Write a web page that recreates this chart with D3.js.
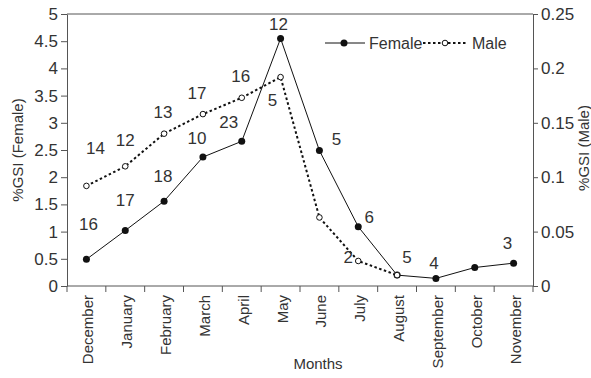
<!DOCTYPE html>
<html>
<head>
<meta charset="utf-8">
<script src="https://cdn.jsdelivr.net/npm/d3@7"></script>
<style>
  html, body { margin: 0; padding: 0; background: #fff; }
  svg { display: block; }
  text { font-family: "Liberation Sans", Arial, sans-serif; fill: #333; }
</style>
</head>
<body>
<svg id="chart" width="591" height="378"></svg>
<script>
// Monthly gonadosomatic index, females (left axis) and males (right axis)
const months = ["December", "January", "February", "March", "April", "May",
                "June", "July", "August", "September", "October", "November"];
const femaleGSI = [0.49, 1.02, 1.56, 2.37, 2.66, 4.55, 2.49, 1.09, 0.20, 0.14, 0.34, 0.42];
const maleGSI = [0.092, 0.110, 0.140, 0.158, 0.173, 0.192, 0.063, 0.023, 0.010];
// sample sizes written beside the points
const femaleN = ["16", "17", "18", "10", "23", "12", "5", "6", "5", "4", null, "3"];
const maleN = ["14", "12", "13", "17", "16", "5", null, "2", null];
const leftTicks = [0, 0.5, 1, 1.5, 2, 2.5, 3, 3.5, 4, 4.5, 5];
const rightTicks = [0, 0.05, 0.1, 0.15, 0.2, 0.25];

const svg = d3.select("#chart");
const m = { left: 67, right: 533, top: 14, bottom: 286 };
const axisColor = "#555";

const x = d3.scaleBand().domain(months).range([m.left, m.right]).padding(0);
const yL = d3.scaleLinear().domain([0, 5]).range([m.bottom, m.top]);
const yR = d3.scaleLinear().domain([0, 0.25]).range([m.bottom, m.top]);
const cx = d => x(d) + x.bandwidth() / 2;

// frame top line
svg.append("line").attr("x1", m.left).attr("x2", m.right)
  .attr("y1", m.top).attr("y2", m.top).attr("stroke", axisColor).attr("stroke-width", 1);

// left axis
const gL = svg.append("g").attr("transform", `translate(${m.left},0)`)
  .call(d3.axisLeft(yL).tickValues(leftTicks).tickSize(6).tickSizeOuter(0).tickPadding(3)
    .tickFormat(d => String(d)));
// right axis
const gR = svg.append("g").attr("transform", `translate(${m.right},0)`)
  .call(d3.axisRight(yR).tickValues(rightTicks).tickSize(5).tickSizeOuter(0).tickPadding(3)
    .tickFormat(d => String(+d.toFixed(2))));
[gL, gR].forEach(g => {
  g.selectAll("path, line").attr("stroke", axisColor);
  g.selectAll("text").attr("font-size", 17).attr("fill", "#333")
    .attr("font-family", "Liberation Sans, Arial, sans-serif");
});

// bottom axis with ticks at band edges
const gB = svg.append("g").attr("transform", `translate(0,${m.bottom})`);
gB.append("line").attr("x1", m.left).attr("x2", m.right).attr("stroke", axisColor);
const edges = months.map(d => x(d)).concat([m.right]);
gB.selectAll("line.tk").data(edges).join("line").attr("class", "tk")
  .attr("x1", d => d).attr("x2", d => d).attr("y1", 0).attr("y2", 6).attr("stroke", axisColor);
gB.selectAll("text.mo").data(months).join("text").attr("class", "mo")
  .attr("transform", d => `translate(${cx(d) + 7},9) rotate(-90)`)
  .attr("text-anchor", "end").attr("font-size", 15).text(d => d);

// axis titles
svg.append("text").attr("transform", `translate(23,${(m.top + m.bottom) / 2}) rotate(-90)`)
  .attr("text-anchor", "middle").attr("font-size", 15).text("%GSI (Female)");
svg.append("text").attr("transform", `translate(589,148) rotate(-90)`)
  .attr("text-anchor", "middle").attr("font-size", 15).text("%GSI (Male)");
svg.append("text").attr("x", 318).attr("y", 369)
  .attr("text-anchor", "middle").attr("font-size", 15).text("Months");

// female series
const femPts = months.map((mo, i) => ({ mo, v: femaleGSI[i], n: femaleN[i] }));
svg.append("path").datum(femPts)
  .attr("d", d3.line().x(d => cx(d.mo)).y(d => yL(d.v)))
  .attr("fill", "none").attr("stroke", "#111").attr("stroke-width", 1);

// male series
const malePts = maleGSI.map((v, i) => ({ mo: months[i], v, n: maleN[i] }));
svg.append("path").datum(malePts)
  .attr("d", d3.line().x(d => cx(d.mo)).y(d => yR(d.v)))
  .attr("fill", "none").attr("stroke", "#111").attr("stroke-width", 2)
  .attr("stroke-dasharray", "2.5,2.5");

svg.selectAll("circle.fem").data(femPts).join("circle").attr("class", "fem")
  .attr("cx", d => cx(d.mo)).attr("cy", d => yL(d.v)).attr("r", 3.5).attr("fill", "#111");
svg.selectAll("circle.male").data(malePts).join("circle").attr("class", "male")
  .attr("cx", d => cx(d.mo)).attr("cy", d => yR(d.v)).attr("r", 2.8)
  .attr("fill", "#fff").attr("stroke", "#111").attr("stroke-width", 1);

// sample-size labels: offsets of each label's centre from its point
const femOff = [[2, -35], [0, -31], [-1, -25], [-6, -19], [-13, -19], [-2, -14],
                [17, -12], [11, -10], [10, -18], [-2, -15], [0, 0], [-6, -20]];
const maleOff = [[9, -38], [0, -26], [-1, -22], [-6, -21], [-1, -22], [-8, 23],
                 [0, 0], [-10, -4], [0, 0]];
const lbl = (pts, offs, ys) => pts.forEach((d, i) => {
  if (!d.n) return;
  svg.append("text").attr("x", cx(d.mo) + offs[i][0]).attr("y", ys(d.v) + offs[i][1] + 6)
    .attr("text-anchor", "middle").attr("font-size", 17).text(d.n);
});
lbl(femPts, femOff, yL);
lbl(malePts, maleOff, yR);

// legend
const lg = svg.append("g");
lg.append("line").attr("x1", 325).attr("x2", 365).attr("y1", 43).attr("y2", 43)
  .attr("stroke", "#111").attr("stroke-width", 1);
lg.append("circle").attr("cx", 344).attr("cy", 43).attr("r", 3.5).attr("fill", "#111");
lg.append("text").attr("x", 369).attr("y", 49).attr("font-size", 16).text("Female");
lg.append("line").attr("x1", 423).attr("x2", 468).attr("y1", 43).attr("y2", 43)
  .attr("stroke", "#111").attr("stroke-width", 2).attr("stroke-dasharray", "2.5,2.5");
lg.append("circle").attr("cx", 445).attr("cy", 43).attr("r", 2.8)
  .attr("fill", "#fff").attr("stroke", "#111");
lg.append("text").attr("x", 472).attr("y", 49).attr("font-size", 16).text("Male");
</script>
</body>
</html>
